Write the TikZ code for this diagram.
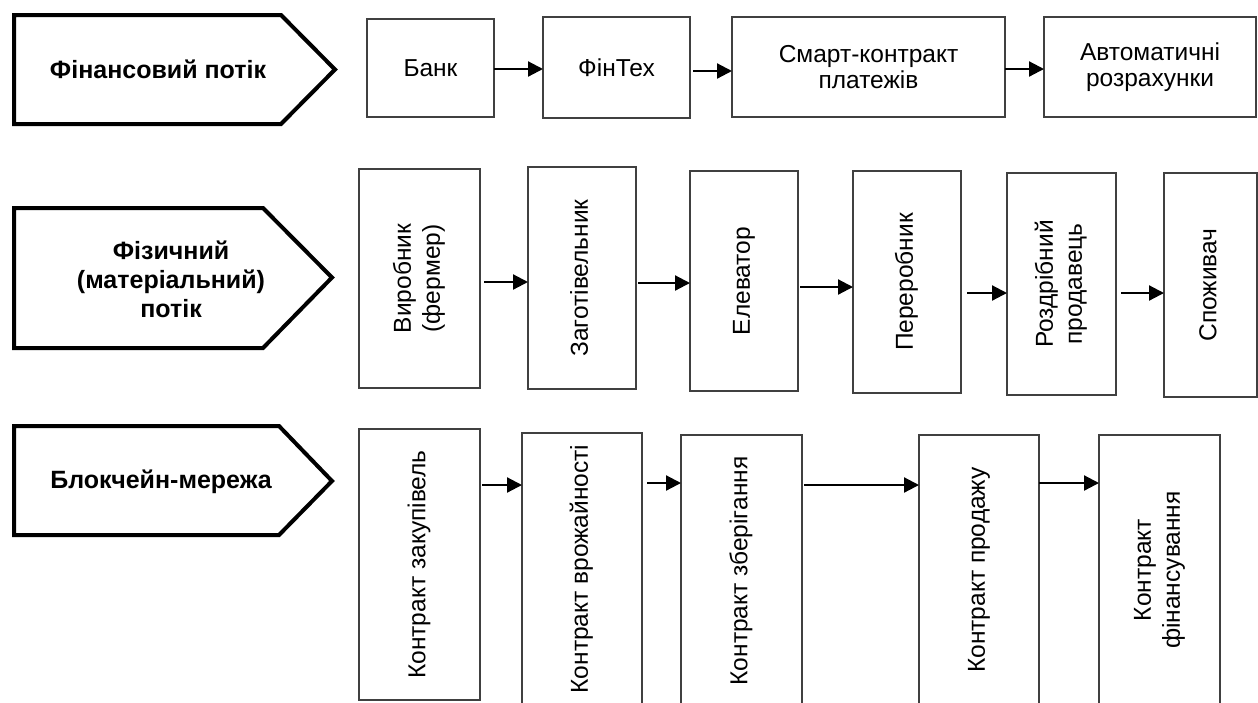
\documentclass[tikz,border=0pt]{standalone}
\usepackage{fontspec}
\usepackage{graphicx}
\setmainfont{Liberation Sans}
\usetikzlibrary{arrows.meta}
\begin{document}
\begin{tikzpicture}[x=1pt,y=-1pt,
  box/.style={draw=black!75,line width=1.2pt,inner sep=0pt,outer sep=0pt,align=center,
    font=\fontsize{24.5}{26}\selectfont},
  pent/.style={draw=black,line width=4pt,line join=miter},
  plabel/.style={font=\bfseries\fontsize{25}{29}\selectfont,align=center,inner sep=0pt},
  arr/.style={line width=2.2pt,-{Triangle[length=15pt,width=15pt]}}
]
\newcommand{\vtxt}[1]{\rotatebox{90}{\fontsize{24.5}{29}\selectfont\begin{tabular}{@{}c@{}}#1\end{tabular}}}
\useasboundingbox (0,0) rectangle (1258,702);
% pentagons
\draw[pent] (14,15) -- (281,15) -- (335,69.5) -- (281,124) -- (14,124) -- cycle;
\draw[pent] (14,208) -- (263,208) -- (332,277.5) -- (263,348) -- (14,348) -- cycle;
\draw[pent] (14,426) -- (279,426) -- (332,481) -- (279,535) -- (14,535) -- cycle;
\node[plabel] (t1) at (158,69) {Фінансовий потік};
\node[plabel] (t2) at (171,279) {Фізичний\\(матеріальний)\\потік};
\node[plabel] (t3) at (161,482) {Блокчейн-мережа};
% row 1
\node[box,minimum width=127pt,minimum height=98pt] (bank) at (430.5,68) {Банк};
\node[box,minimum width=147pt,minimum height=101pt] (fintech) at (616.5,67.5) {ФінТех};
\node[box,minimum width=273pt,minimum height=100pt] (smart) at (868.5,67) {Смарт-контракт\\платежів};
\node[box,minimum width=212pt,minimum height=100pt] (auto) at (1150,67) {Автоматичні\\розрахунки};
% row 2
\node[box,minimum width=121pt,minimum height=219pt] (vir) at (419.5,278.5) {\vtxt{Виробник\\(фермер)}};
\node[box,minimum width=108pt,minimum height=222pt] (zag) at (582,278) {\vtxt{Заготівельник}};
\node[box,minimum width=108pt,minimum height=220pt] (elev) at (744,281) {\vtxt{Елеватор}};
\node[box,minimum width=108pt,minimum height=222pt] (per) at (907,282) {\vtxt{Переробник}};
\node[box,minimum width=109pt,minimum height=222pt] (roz) at (1061.5,284) {\vtxt{Роздрібний\\продавець}};
\node[box,minimum width=93pt,minimum height=224pt] (spo) at (1210.5,285) {\vtxt{Споживач}};
% row 3
\node[box,minimum width=121pt,minimum height=271pt] (zak) at (419.5,564.5) {\vtxt{Контракт закупівель}};
\node[box,minimum width=120pt,minimum height=272pt] (vro) at (582,569) {\vtxt{Контракт врожайності}};
\node[box,minimum width=121pt,minimum height=272pt] (zbe) at (741.5,571) {\vtxt{Контракт зберігання}};
\node[box,minimum width=120pt,minimum height=270pt] (pro) at (979,570) {\vtxt{Контракт продажу}};
\node[box,minimum width=121pt,minimum height=270pt] (fin) at (1159.5,570) {\vtxt{Контракт\\фінансування}};
% arrows row 1
\draw[arr] (bank.east |- 0,69) -- (fintech.west |- 0,69);
\draw[arr,shorten <=3pt] (fintech.east |- 0,71) -- (smart.west |- 0,71);
\draw[arr] (smart.east |- 0,69) -- (auto.west |- 0,69);
% arrows row 2
\draw[arr,shorten <=4pt] (vir.east |- 0,282) -- (zag.west |- 0,282);
\draw[arr,shorten <=2pt] (zag.east |- 0,283) -- (elev.west |- 0,283);
\draw[arr,shorten <=2pt] (elev.east |- 0,287) -- (per.west |- 0,287);
\draw[arr,shorten <=6pt] (per.east |- 0,293) -- (roz.west |- 0,293);
\draw[arr,shorten <=5pt] (roz.east |- 0,293) -- (spo.west |- 0,293);
% arrows row 3
\draw[arr,shorten <=2pt] (zak.east |- 0,485) -- (vro.west |- 0,485);
\draw[arr,shorten <=5pt] (vro.east |- 0,483) -- (zbe.west |- 0,483);
\draw[arr,shorten <=2pt] (zbe.east |- 0,485) -- (pro.west |- 0,485);
\draw[arr] (pro.east |- 0,483) -- (fin.west |- 0,483);
\end{tikzpicture}
\end{document}
